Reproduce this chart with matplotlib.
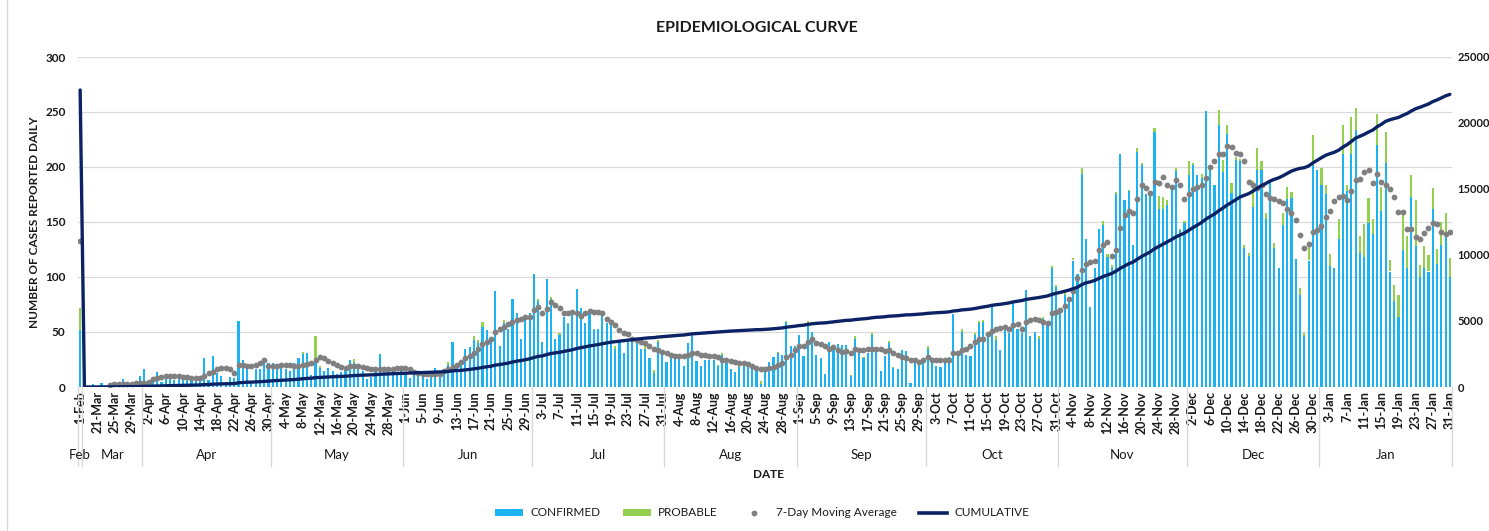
import numpy as np
import pandas as pd
import matplotlib
matplotlib.use("Agg")
import matplotlib.pyplot as plt
import matplotlib.transforms as mtransforms
from matplotlib.patches import Patch
from matplotlib.lines import Line2D

plt.rcParams['font.family'] = ['Lato', 'DejaVu Sans']

# categories: a single 1-Feb row, then 18-Mar .. 31-Jan
dates = [pd.Timestamp(2021, 2, 1)] + list(pd.date_range("2020-03-18", "2021-01-31"))

# daily confirmed cases, by month
conf_feb = [52]
conf_mar = [0, 0, 3, 0, 4, 0, 2, 3, 1, 7, 2, 3, 4, 10]
conf_apr = [16, 4, 6, 14, 5, 8, 9, 6, 10, 7, 8, 6, 9, 7, 26, 6, 28, 13, 10, 5, 9, 8, 60, 25, 20, 5, 16, 16, 26, 22]
conf_may = [22, 17, 22, 16, 15, 22, 26, 30, 31, 11, 25, 17, 15, 17, 15, 12, 14, 18, 25, 22, 17, 15, 7, 9, 14, 30, 17, 14, 15, 13, 15]
conf_jun = [14, 8, 12, 14, 12, 7, 14, 17, 11, 12, 20, 41, 17, 25, 35, 36, 43, 40, 55, 52, 41, 87, 37, 58, 53, 80, 67, 44, 62, 67]
conf_jul = [103, 78, 41, 98, 80, 44, 47, 64, 57, 70, 89, 72, 58, 67, 52, 53, 65, 58, 57, 35, 41, 31, 43, 41, 40, 35, 35, 26, 13, 41, 31]
conf_aug = [23, 28, 26, 28, 19, 40, 47, 24, 19, 25, 25, 25, 19, 29, 25, 16, 14, 18, 20, 20, 18, 15, 3, 15, 23, 27, 31, 29, 59, 37, 37]
conf_sep = [47, 28, 58, 50, 29, 26, 12, 41, 34, 39, 38, 38, 10, 44, 32, 26, 31, 47, 35, 15, 28, 40, 17, 16, 34, 33, 4, 23, 25, 25]
conf_oct = [35, 26, 19, 18, 22, 27, 66, 28, 50, 29, 28, 47, 58, 59, 47, 75, 43, 34, 52, 49, 76, 53, 49, 88, 46, 50, 44, 62, 56, 108, 91]
conf_nov = [68, 84, 79, 115, 103, 194, 135, 73, 108, 144, 147, 118, 108, 175, 212, 170, 178, 129, 214, 202, 175, 175, 232, 162, 162, 165, 184, 196, 143, 149]
conf_dec = [193, 202, 193, 190, 251, 200, 184, 238, 195, 230, 176, 206, 205, 126, 119, 164, 197, 197, 153, 187, 126, 108, 147, 171, 172, 116, 84, 46, 115, 202, 197]
conf_jan = [184, 175, 110, 108, 135, 212, 178, 212, 234, 122, 118, 149, 139, 220, 160, 204, 105, 78, 64, 125, 108, 173, 128, 100, 108, 105, 162, 112, 129, 137, 100]

# daily probable cases, by month
prob_feb = [20]
prob_mar = [0, 0, 0, 0, 0, 0, 0, 0, 0, 0, 0, 0, 0, 0]
prob_apr = [0, 0, 0, 0, 0, 0, 0, 0, 0, 0, 0, 0, 0, 0, 0, 0, 0, 0, 0, 0, 0, 0, 0, 0, 0, 0, 0, 0, 0, 0]
prob_may = [0, 0, 0, 0, 0, 0, 0, 2, 0, 0, 21, 2, 0, 0, 0, 0, 0, 0, 0, 3, 0, 0, 0, 0, 0, 0, 0, 0, 0, 0, 0]
prob_jun = [0, 0, 0, 0, 0, 0, 0, 0, 0, 0, 3, 0, 0, 0, 0, 0, 3, 3, 4, 0, 0, 0, 0, 3, 0, 0, 0, 0, 2, 0]
prob_jul = [0, 2, 0, 0, 2, 0, 2, 0, 1, 0, 0, 0, 0, 0, 1, 0, 0, 0, 0, 2, 0, 0, 0, 0, 0, 0, 2, 0, 2, 2, 0]
prob_aug = [0, 0, 0, 0, 0, 0, 0, 0, 0, 0, 0, 0, 1, 2, 0, 0, 0, 1, 0, 0, 0, 0, 2, 0, 0, 0, 1, 0, 1, 0, 0]
prob_sep = [0, 0, 2, 0, 0, 0, 0, 0, 0, 0, 0, 0, 1, 2, 0, 1, 0, 2, 0, 0, 0, 2, 1, 0, 0, 0, 0, 0, 0, 0]
prob_oct = [2, 0, 0, 0, 0, 0, 0, 0, 3, 0, 0, 2, 2, 2, 0, 0, 3, 0, 0, 0, 2, 0, 0, 0, 0, 0, 2, 2, 0, 2, 2]
prob_nov = [0, 3, 2, 2, 0, 5, 0, 0, 0, 0, 4, 3, 3, 2, 0, 0, 1, 0, 3, 2, 0, 0, 3, 12, 11, 5, 0, 3, 1, 2]
prob_dec = [12, 2, 0, 4, 0, 2, 0, 14, 11, 8, 9, 3, 2, 3, 3, 23, 20, 8, 5, 0, 5, 0, 11, 11, 5, 0, 6, 3, 17, 27, 0]
prob_jan = [15, 9, 11, 0, 18, 26, 6, 33, 20, 15, 30, 23, 14, 28, 22, 28, 10, 15, 20, 33, 29, 20, 42, 11, 20, 15, 19, 13, 21, 21, 17]

# 7-day moving average as plotted (nan = no dot)
nan = np.nan
ma_feb = [133]
ma_mar = [nan, nan, nan, nan, nan, nan, 2, 3, 3, 3, 3, 3, 4, 4]
ma_apr = [4, 5, 7, 8, 9, 10, 10, 10, 10, 9, 9, 8, 8, 8, 10, 13, 14, 16, 17, 17, 16, 13, 20, 20, 19, 19, 20, 22, 25, 19]
ma_may = [19, 19, 20, 20, 20, 19, 19, 20, 21, 22, 25, 27, 26, 24, 22, 20, 18, 17, 19, 19, 19, 18, 17, 16, 16, 16, 16, 16, 16, 17, 17]
ma_jun = [17, 16, 14, 13, 12, 12, 12, 12, 12, 15, 16, 18, 20, 23, 26, 28, 31, 35, 39, 41, 44, 50, 53, 55, 57, 59, 61, 62, 64, 64]
ma_jul = [70, 73, 67, 71, 77, 75, 72, 67, 67, 68, 67, 65, 67, 69, 68, 68, 67, 62, 59, 56, 52, 49, 48, 44, 43, 41, 40, 37, 35, 34, 32]
ma_aug = [31, 29, 28, 28, 28, 29, 31, 31, 29, 29, 28, 28, 27, 25, 25, 24, 23, 22, 22, 21, 19, 17, 16, 16, 17, 18, 20, 22, 27, 29, 34]
ma_sep = [37, 37, 41, 44, 40, 39, 37, 35, 36, 34, 32, 33, 31, 35, 34, 34, 35, 35, 35, 35, 33, 34, 31, 29, 27, 26, 25, 25, 23, 25]
ma_oct = [27, 25, 25, 25, 25, 25, 31, 31, 34, 35, 37, 41, 44, 44, 48, 51, 53, 54, 55, 53, 56, 57, 53, 59, 61, 62, 61, 59, 58, 67, 68]
ma_nov = [70, 74, 80, 87, 99, 106, 112, 114, 115, 125, 129, 132, 119, 125, 145, 156, 160, 158, 171, 184, 181, 176, 186, 185, 191, 184, 182, 188, 184, 171]
ma_dec = [175, 180, 182, 184, 190, 200, 205, 212, 212, 219, 218, 213, 212, 205, 186, 184, 181, 184, 175, 172, 171, 169, 167, 162, 158, 152, 138, 126, 130, 141, 143]
ma_jan = [146, 155, 160, 169, 173, 174, 170, 178, 188, 189, 195, 197, 185, 194, 186, 184, 180, 173, 159, 159, 144, 144, 136, 135, 140, 145, 149, 148, 141, 139, 141]

cum_feb_row = 22500  # cumulative shown on the 1-Feb row

confirmed = np.array(conf_feb + conf_mar + conf_apr + conf_may + conf_jun + conf_jul
                     + conf_aug + conf_sep + conf_oct + conf_nov + conf_dec + conf_jan, dtype=float)
probable = np.array(prob_feb + prob_mar + prob_apr + prob_may + prob_jun + prob_jul
                    + prob_aug + prob_sep + prob_oct + prob_nov + prob_dec + prob_jan, dtype=float)
moving_avg = np.array(ma_feb + ma_mar + ma_apr + ma_may + ma_jun + ma_jul
                      + ma_aug + ma_sep + ma_oct + ma_nov + ma_dec + ma_jan, dtype=float)
daily = confirmed + probable
cumulative = np.concatenate([[cum_feb_row], np.cumsum(daily[1:])])

x = np.arange(len(dates))
labels = [f"{d.day}-{d.strftime('%b')}" for d in dates]
months = [d.strftime('%b') for d in dates]

BLUE = '#1DB3F0'
GREEN = '#92D050'
GREY = '#808080'
NAVY = '#0B2265'
TXT = '#1A1A1A'

fig = plt.figure(figsize=(14.89, 5.31), dpi=100)
ax = fig.add_axes([78 / 1489, 1 - 387 / 531, (1452 - 78) / 1489, 330 / 531])
ax2 = ax.twinx()

ax.bar(x, confirmed, width=0.5, color=BLUE, zorder=2)
ax.bar(x, probable, width=0.5, bottom=confirmed, color=GREEN, zorder=2)
ax.plot(x, moving_avg, 'o', color=GREY, markersize=4.2, markeredgewidth=0, zorder=3)
ax2.plot(x, cumulative, color=NAVY, linewidth=2.4, solid_capstyle='round', zorder=4)

ax.set_xlim(-0.5, len(x) - 0.5)
ax.set_ylim(0, 300)
ax2.set_ylim(0, 25000)
ax.set_yticks(range(0, 301, 50))
ax2.set_yticks(range(0, 25001, 5000))
ax.grid(axis='y', color='#D9D9D9', linewidth=0.9, zorder=0)
ax.set_axisbelow(True)
for a in (ax, ax2):
    for s in a.spines.values():
        s.set_visible(False)
ax.tick_params(axis='y', length=0, pad=9, labelsize=8.5, labelcolor=TXT)
ax2.tick_params(axis='y', length=0, pad=4, labelsize=8, labelcolor=TXT)
for t in ax.get_yticklabels() + ax2.get_yticklabels():
    t.set_fontweight('bold')

tick_idx = x[::4]
ax.set_xticks(tick_idx)
ax.set_xticklabels([labels[i] for i in tick_idx], rotation=90, fontsize=9,
                   fontweight='bold', color=TXT)
ax.tick_params(axis='x', length=0, pad=3)

# month groups under the day labels
trans = mtransforms.blended_transform_factory(ax.transData, ax.transAxes)
bounds = [0] + [i for i in range(1, len(months)) if months[i] != months[i - 1]] + [len(months)]
for b in bounds:
    ax.add_line(Line2D([b - 0.5, b - 0.5], [0, -0.24], transform=trans, color='#D9D9D9',
                       linewidth=1.0, clip_on=False))
for s, e in zip(bounds[:-1], bounds[1:]):
    ax.text((s + e - 1) / 2, -0.207, months[s], transform=trans, ha='center', va='center',
            fontsize=9.5, color=TXT)

fig.text(768 / 1489, 1 - 475 / 531, 'DATE', ha='center', va='center', fontsize=8.5,
         fontweight='bold', color=TXT)
fig.text(35 / 1489, 1 - 222 / 531, 'NUMBER OF CASES REPORTED DAILY', rotation=90,
         ha='center', va='center', fontsize=8.5, fontweight='bold', color=TXT)
fig.text(757 / 1489, 1 - 28 / 531, 'EPIDEMIOLOGICAL CURVE', ha='center', va='center',
         fontsize=11.5, fontweight='bold', color=TXT)

# thin frame edge on the left
fig.add_artist(Line2D([7 / 1489, 7 / 1489], [0, 1], transform=fig.transFigure,
                      color='#D9D9D9', linewidth=1.0))

handles = [
    Patch(facecolor=BLUE, edgecolor='none'),
    Patch(facecolor=GREEN, edgecolor='none'),
    Line2D([], [], linestyle='none', marker='o', markersize=4.2, color=GREY, markeredgewidth=0),
    Line2D([], [], color=NAVY, linewidth=2.6),
]
fig.legend(handles, ['CONFIRMED', 'PROBABLE', '7-Day Moving Average', 'CUMULATIVE'],
           loc='center', bbox_to_anchor=(762 / 1489, 1 - 513 / 531), ncol=4, frameon=False,
           fontsize=8.5, handlelength=2.4, handleheight=0.55, handletextpad=0.6,
           columnspacing=1.9, labelcolor=TXT)

fig.savefig('out.png', dpi=100)
